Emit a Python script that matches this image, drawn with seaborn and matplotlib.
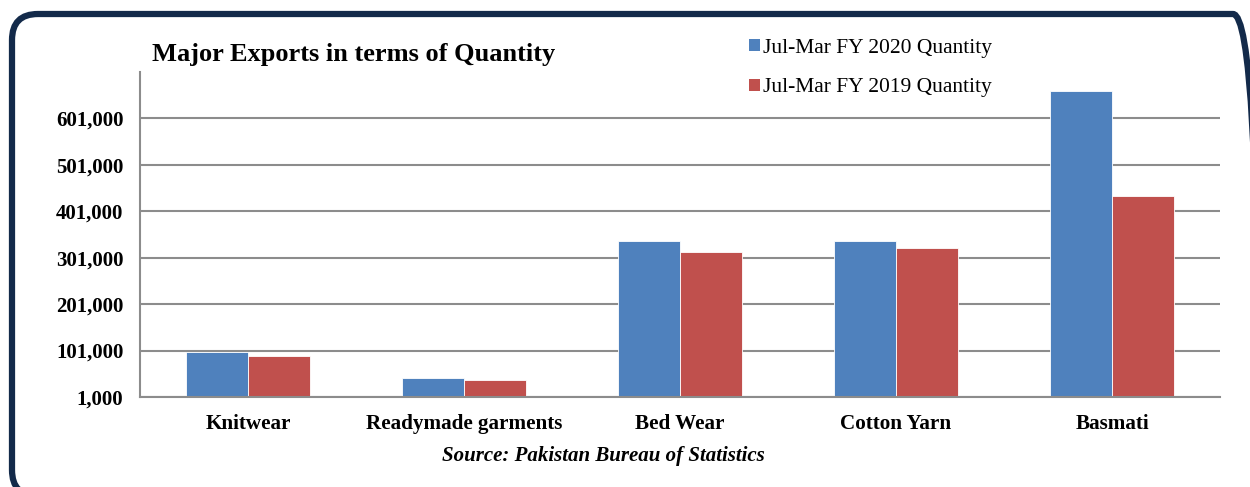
import numpy as np
import pandas as pd
import matplotlib
matplotlib.use('Agg')
import matplotlib.pyplot as plt
from matplotlib.patches import FancyBboxPatch, Patch
import seaborn as sns

categories = ['Knitwear', 'Readymade garments', 'Bed Wear', 'Cotton Yarn', 'Basmati']
series_names = ['Jul-Mar FY 2020 Quantity', 'Jul-Mar FY 2019 Quantity']
qty_2020 = [97500, 42500, 338000, 337000, 660000]
qty_2019 = [89500, 38000, 313000, 321000, 435000]
y_ticks = [1000, 101000, 201000, 301000, 401000, 501000, 601000]

colors = ['#4F81BD', '#C0504D']
grid_col = '#8c8c8c'

sns.set_style('white')
plt.rcParams['font.family'] = ['Liberation Serif', 'DejaVu Serif']
plt.rcParams['text.color'] = 'black'
plt.rcParams['xtick.color'] = 'black'
plt.rcParams['ytick.color'] = 'black'

df = pd.DataFrame({
    'Category': categories * 2,
    'Series': [series_names[0]] * len(categories) + [series_names[1]] * len(categories),
    'Quantity': qty_2020 + qty_2019,
})

fig = plt.figure(figsize=(12.5, 4.87), dpi=100)

# rounded frame around the whole chart (inch units so the corners stay round)
frame = FancyBboxPatch((0.12, -0.09), 12.47, 4.82,
                       boxstyle='round,pad=0,rounding_size=0.26',
                       transform=fig.dpi_scale_trans, fill=False,
                       edgecolor='#132a4a', linewidth=4.5, zorder=0)
fig.patches.append(frame)

ax = fig.add_axes([140 / 1250, 1 - 397 / 487, 1080 / 1250, 325 / 487])
sns.barplot(data=df, x='Category', y='Quantity', hue='Series', palette=colors,
            saturation=1, width=0.57, ax=ax, edgecolor='white', linewidth=0.6,
            legend=False)

ax.set_xlim(-0.5, len(categories) - 0.5)
ax.set_ylim(1000, 701000)
ax.set_yticks(y_ticks)
ax.set_yticklabels([f'{v:,}' for v in y_ticks], fontsize=15, fontweight='bold')
ax.set_xticks(np.arange(len(categories)))
ax.set_xticklabels(categories, fontsize=15.2, fontweight='bold')
ax.set_xticks(np.arange(len(categories) + 1) - 0.5, minor=True)
ax.tick_params(axis='x', which='major', length=0, pad=12)
ax.tick_params(axis='x', which='minor', length=6, width=1.5, color=grid_col, direction='out')
ax.tick_params(axis='y', length=6, width=1.5, color=grid_col, direction='out', pad=6)
ax.set_xlabel('')
ax.set_ylabel('')
ax.grid(axis='y', color=grid_col, linewidth=1.5)
ax.set_axisbelow(True)
for s in ['top', 'right']:
    ax.spines[s].set_visible(False)
for s in ['left', 'bottom']:
    ax.spines[s].set_color(grid_col)
    ax.spines[s].set_linewidth(1.5)

fig.text(152 / 1250, 1 - 55 / 487, 'Major Exports in terms of Quantity',
         fontsize=19, fontweight='bold', va='center', ha='left')

handles = [Patch(facecolor=c, edgecolor='none') for c in colors]
fig.legend(handles, series_names, loc='upper left',
           bbox_to_anchor=(749 / 1250, 1 - 39 / 487), frameon=False,
           fontsize=15.5, handlelength=0.5, handleheight=0.5,
           handletextpad=0.15, labelspacing=0.95, borderaxespad=0, borderpad=0)

fig.text(603 / 1250, 1 - 456 / 487, 'Source: Pakistan Bureau of Statistics',
         fontsize=15, fontweight='bold', fontstyle='italic', ha='center', va='center')

plt.savefig('out.png', dpi=100)
plt.close()
